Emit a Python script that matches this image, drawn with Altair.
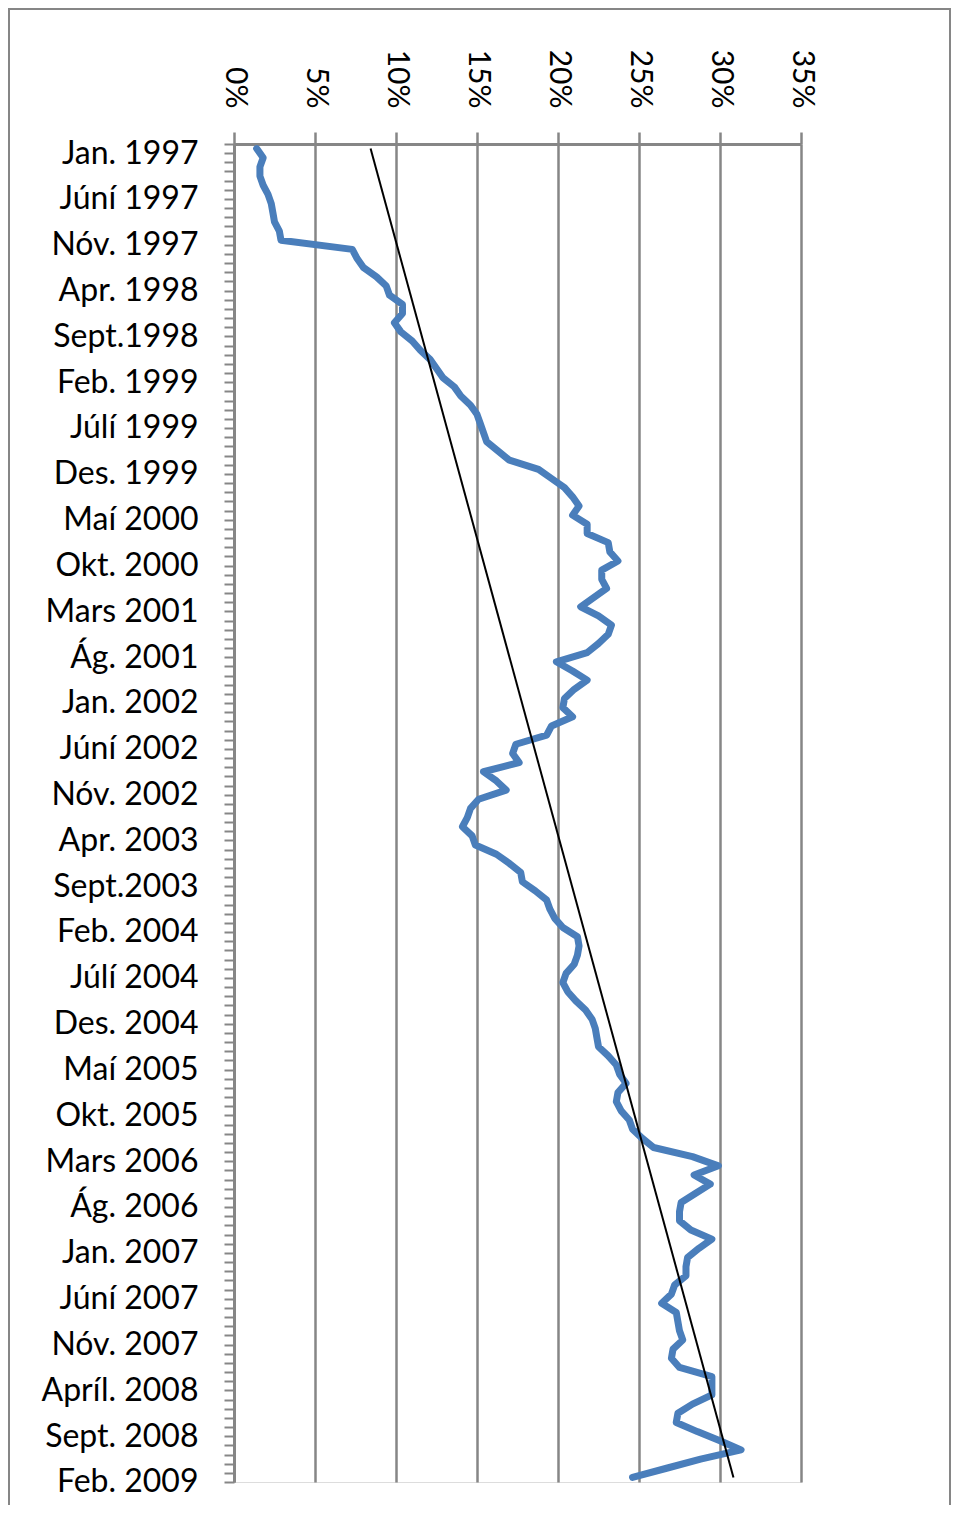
import json
import altair as alt
import pandas as pd

# Monthly share (%) from Jan. 1997 to Feb. 2009 (146 months)
values = [
    1.4, 1.8, 1.6, 1.6, 1.8, 2.1, 2.3, 2.4, 2.5, 2.8,
    2.9, 7.3, 7.6, 8.0, 8.8, 9.4, 9.6, 10.4, 10.4, 9.9,
    10.3, 11.0, 11.5, 12.1, 12.5, 12.9, 13.6, 14.0, 14.6, 15.0,
    15.2, 15.4, 15.6, 16.3, 17.0, 18.8, 19.6, 20.4, 20.9, 21.3,
    20.9, 21.8, 21.8, 23.1, 23.2, 23.7, 22.7, 22.7, 23.0, 22.2,
    21.4, 22.5, 23.3, 23.1, 22.5, 21.8, 19.9, 20.9, 21.8, 21.0,
    20.4, 20.3, 20.9, 19.6, 19.3, 17.4, 17.2, 17.6, 15.4, 16.2,
    16.8, 15.1, 14.6, 14.4, 14.1, 14.7, 14.9, 16.2, 17.0, 17.7,
    17.8, 18.6, 19.3, 19.5, 19.8, 20.3, 21.2, 21.3, 21.2, 21.0,
    20.5, 20.3, 20.6, 21.1, 21.7, 22.1, 22.3, 22.4, 22.5, 23.1,
    23.6, 23.8, 24.2, 23.7, 23.6, 23.9, 24.4, 24.6, 25.2, 25.9,
    28.3, 29.9, 28.4, 29.4, 28.5, 27.6, 27.5, 27.5, 28.2, 29.5,
    28.7, 28.0, 27.9, 27.9, 27.2, 27.0, 26.4, 27.3, 27.4, 27.5,
    27.7, 27.1, 27.0, 27.5, 29.5, 29.5, 29.5, 28.3, 27.4, 27.3,
    28.6, 30.0, 31.3, 28.8, 26.7, 24.6,
]

# Category labels shown every 5th month
labels = [
    "Jan. 1997", "Júní 1997", "Nóv. 1997", "Apr. 1998", "Sept.1998",
    "Feb. 1999", "Júlí 1999", "Des. 1999", "Maí 2000", "Okt. 2000",
    "Mars 2001", "Ág. 2001", "Jan. 2002", "Júní 2002", "Nóv. 2002",
    "Apr. 2003", "Sept.2003", "Feb. 2004", "Júlí 2004", "Des. 2004",
    "Maí 2005", "Okt. 2005", "Mars 2006", "Ág. 2006", "Jan. 2007",
    "Júní 2007", "Nóv. 2007", "Apríl. 2008", "Sept. 2008", "Feb. 2009",
]

pct_ticks = [0, 5, 10, 15, 20, 25, 30, 35]

n = len(values)
df = pd.DataFrame({"i": list(range(n)), "v": values})

FONT = "Lato"
GRID = "#868686"

label_expr = (
    "(datum.value + 0.5) % 5 == 0 && (datum.value + 0.5) <= "
    + str(n - 1)
    + " ? "
    + json.dumps(labels)
    + "[(datum.value + 0.5) / 5] : ''"
)

tick_vals = [k - 0.5 for k in range(n + 1)]

x_enc = alt.X(
    "v:Q",
    scale=alt.Scale(domain=[0, 35], nice=False, zero=True),
    axis=alt.Axis(
        orient="top",
        values=pct_ticks,
        labelExpr="datum.value + '%'",
        labelAngle=90,
        labelAlign="right",
        labelBaseline="middle",
        labelFont=FONT,
        labelFontSize=30,
        labelColor="black",
        labelPadding=24,
        tickSize=12,
        tickWidth=2.5,
        tickColor=GRID,
        domainColor=GRID,
        domainWidth=3,
        grid=True,
        gridColor=GRID,
        gridWidth=2.5,
        title=None,
    ),
)

y_enc = alt.Y(
    "i:Q",
    scale=alt.Scale(domain=[-0.5, n - 0.5], reverse=True, nice=False, zero=False),
    axis=alt.Axis(
        orient="left",
        values=tick_vals,
        tickCount=len(tick_vals) + 10,
        labelExpr=label_expr,
        labelOverlap=False,
        labelOffset=9,
        labelAlign="right",
        labelBaseline="middle",
        labelFont=FONT,
        labelFontSize=32,
        labelColor="black",
        labelPadding=26,
        tickSize=10,
        tickWidth=2,
        tickColor=GRID,
        domainColor=GRID,
        domainWidth=3,
        grid=False,
        title=None,
    ),
)

line = (
    alt.Chart(df)
    .mark_line(color="#4A7EBB", strokeWidth=7, strokeJoin="round", strokeCap="round")
    .encode(x=x_enc, y=y_enc, order="i:Q")
)

trend = (
    alt.Chart(df)
    .transform_regression("i", "v", method="linear")
    .mark_line(color="black", strokeWidth=2)
    .encode(x="v:Q", y="i:Q", order="i:Q")
)

frame = (
    alt.Chart(pd.DataFrame({"z": [0]}))
    .mark_rect(fillOpacity=0, stroke=GRID, strokeWidth=2)
    .encode(
        x=alt.value(-225),
        x2=alt.value(716),
        y=alt.value(-135),
        y2=alt.value(1420),
    )
)

chart = (
    alt.layer(line, trend, frame)
    .properties(
        width=567,
        height=1338,
        padding={"left": 226, "top": 136, "right": 150, "bottom": 23},
        autosize=alt.AutoSizeParams(type="none"),
    )
    .configure_view(stroke=None)
    .configure(background="white")
)

chart.save("out.html", embed_options={"renderer": "svg", "actions": False})
